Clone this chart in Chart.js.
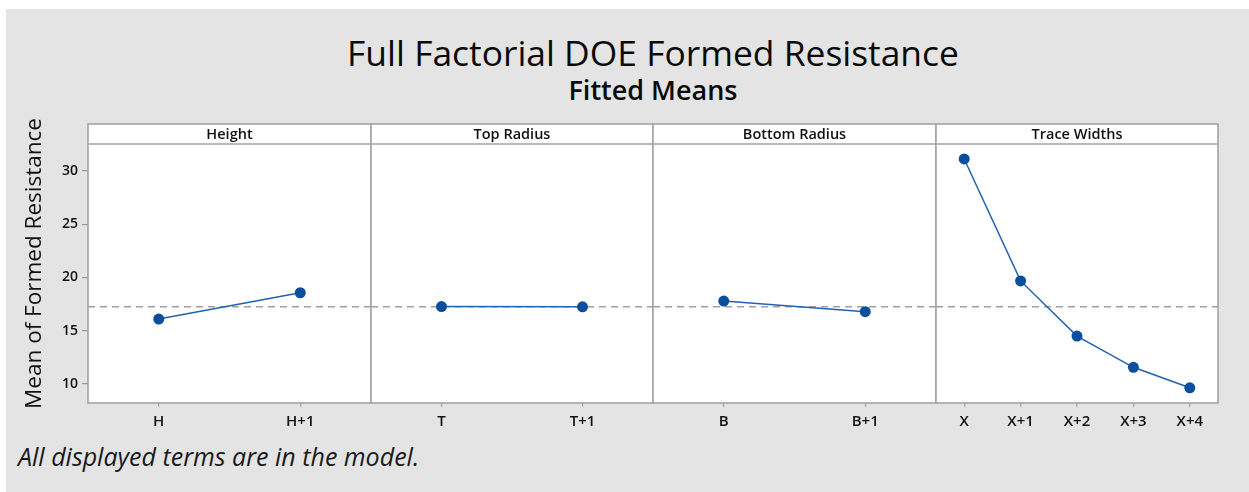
<!DOCTYPE html>
<html>
<head>
<meta charset="utf-8">
<script src="https://cdn.jsdelivr.net/npm/chart.js@4/dist/chart.umd.min.js"></script>
<style>
  body { margin: 0; background: #fff; width: 1249px; height: 492px; overflow: hidden; position: relative; font-family: "Open Sans", sans-serif; }
  #bg { position: absolute; left: 6px; top: 9px; width: 1243px; height: 483px; background: #e4e4e4; }
  .txt { position: absolute; white-space: nowrap; color: #0a0a0a; }
  #title { left: 0; width: 1306px; top: 29px; text-align: center; font-size: 35.4px; line-height: 46px; }
  #subtitle { left: 0; width: 1306px; top: 72px; text-align: center; font-size: 27px; line-height: 36px; font-weight: 600; }
  #note { left: 18px; top: 440px; font-size: 25px; font-style: italic; line-height: 32px; color: #1a1a1a; }
  canvas { position: absolute; top: 110px; }
</style>
</head>
<body>
<div id="bg"></div>
<div class="txt" id="title">Full Factorial DOE Formed Resistance</div>
<div class="txt" id="subtitle">Fitted Means</div>
<canvas id="p0" width="373" height="328" style="left:0px"></canvas>
<canvas id="p1" width="286" height="328" style="left:369px"></canvas>
<canvas id="p2" width="287" height="328" style="left:651px"></canvas>
<canvas id="p3" width="286" height="328" style="left:934px"></canvas>
<div class="txt" id="note">All displayed terms are in the model.</div>
<script>
// values
var panelTitles = ['Height', 'Top Radius', 'Bottom Radius', 'Trace Widths'];
var heightLevels = ['H', 'H+1'];
var heightMeans = [16.1, 18.57];
var topLevels = ['T', 'T+1'];
var topMeans = [17.27, 17.25];
var bottomLevels = ['B', 'B+1'];
var bottomMeans = [17.79, 16.79];
var traceLevels = ['X', 'X+1', 'X+2', 'X+3', 'X+4'];
var traceMeans = [31.13, 19.68, 14.5, 11.57, 9.65];
var overallMean = 17.26;
var yTicks = [10, 15, 20, 25, 30];

var levels = [heightLevels, topLevels, bottomLevels, traceLevels];
var means = [heightMeans, topMeans, bottomMeans, traceMeans];

var frameColor = '#a3a3a3';

// white panel, header strip, frame and the dashed mean line
var panelPlugin = {
    id: 'panel',
    beforeDraw: function (chart) {
        var a = chart.chartArea, c = chart.ctx;
        c.save();
        c.fillStyle = '#fff';
        c.fillRect(a.left, a.top, a.right - a.left, a.bottom - a.top);
        c.restore();
    },
    beforeDatasetsDraw: function (chart) {
        var a = chart.chartArea, c = chart.ctx;
        var y = chart.scales.y.getPixelForValue(overallMean);
        c.save();
        c.strokeStyle = '#a0a0a0';
        c.lineWidth = 1.5;
        c.setLineDash([7, 5]);
        c.beginPath();
        c.moveTo(a.left, y);
        c.lineTo(a.right, y);
        c.stroke();
        c.restore();
    },
    afterDraw: function (chart) {
        var a = chart.chartArea, c = chart.ctx;
        var title = chart.options.plugins.panel.title;
        c.save();
        c.strokeStyle = frameColor;
        c.lineWidth = 1.6;
        c.strokeRect(a.left, a.top, a.right - a.left, a.bottom - a.top);
        c.beginPath();
        c.moveTo(a.left, a.top + 20);
        c.lineTo(a.right, a.top + 20);
        c.stroke();
        c.fillStyle = '#111';
        c.font = '600 14.5px "Open Sans"';
        c.textAlign = 'center';
        c.textBaseline = 'middle';
        c.fillText(title, (a.left + a.right) / 2, a.top + 10.5);
        c.restore();
    }
};

function makePanel(i) {
    var first = i === 0;
    var ctx = document.getElementById('p' + i).getContext('2d');
    return new Chart(ctx, {
        type: 'line',
        data: {
            labels: levels[i],
            datasets: [{
                data: means[i],
                borderColor: '#2262b0',
                borderWidth: 1.5,
                backgroundColor: '#0a4f9e',
                pointBackgroundColor: '#0a4f9e',
                pointBorderColor: '#0a4f9e',
                pointRadius: 5.5,
                pointBorderWidth: 0,
                tension: 0,
                fill: false
            }]
        },
        options: {
            responsive: false,
            animation: false,
            layout: { autoPadding: false, padding: { left: first ? 0 : 2, right: 2, top: 14, bottom: 0 } },
            plugins: {
                legend: { display: false },
                tooltip: { enabled: false },
                panel: { title: panelTitles[i] }
            },
            scales: {
                x: {
                    type: 'category',
                    offset: true,
                    border: { display: false },
                    grid: { drawOnChartArea: false, drawTicks: true, tickLength: 4, offset: false, color: frameColor, lineWidth: 1.2 },
                    ticks: { color: '#111', padding: 6, font: { family: 'Open Sans', size: 15, weight: '600' }, maxRotation: 0 },
                    afterFit: function (s) { s.height = 35; }
                },
                y: {
                    display: first,
                    min: 8.22,
                    max: 34.41,
                    border: { display: false },
                    grid: { drawOnChartArea: false, drawTicks: true, tickLength: 6, color: '#999', lineWidth: 1.2 },
                    ticks: { color: '#111', padding: 4, font: { family: 'Open Sans', size: 14, weight: '600' } },
                    title: {
                        display: true,
                        text: 'Mean of Formed Resistance',
                        color: '#111',
                        font: { family: 'Open Sans', size: 22.5 },
                        padding: { top: 21, bottom: 0 }
                    },
                    afterBuildTicks: function (s) { s.ticks = yTicks.map(function (v) { return { value: v }; }); },
                    afterFit: function (s) { s.width = first ? 88 : 0; }
                }
            }
        },
        plugins: [panelPlugin]
    });
}

for (var i = 0; i < 4; i++) makePanel(i);
</script>
</body>
</html>
